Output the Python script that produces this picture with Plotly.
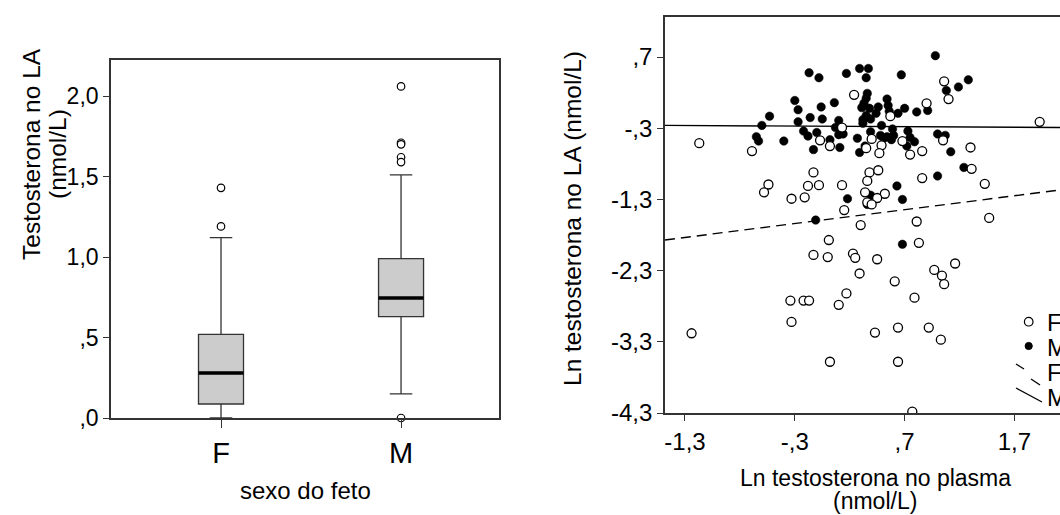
import plotly.graph_objects as go

W, H = 1060, 515

# ---------------- Left: boxplot data ----------------
box_cats = ["F", "M"]
box_q1 = [0.087, 0.63]
box_median = [0.28, 0.745]
box_q3 = [0.52, 0.99]
box_lower = [0.0, 0.15]
box_upper = [1.12, 1.51]
outliers_F = [1.43, 1.19]
outliers_M = [2.06, 1.71, 1.70, 1.62, 1.59, 0.0]
left_yticks = [0.0, 0.5, 1.0, 1.5, 2.0]
left_yticklabels = [",0", ",5", "1,0", "1,5", "2,0"]

# ---------------- Right: scatter data ----------------
male_points = [
    (-0.17, 0.48), (-0.08, 0.41), (0.17, 0.47), (0.29, 0.54), (0.37, 0.54), (0.35, 0.41),
    (0.67, 0.45), (0.98, 0.72), (1.28, 0.38), (1.19, 0.28), (1.08, 0.23), (-0.30, 0.09),
    (-0.27, -0.04), (-0.06, 0.00), (0.06, 0.06), (-0.53, -0.13), (-0.16, -0.15), (-0.05, -0.17),
    (-0.27, -0.21), (0.10, -0.19), (-0.60, -0.26), (0.07, -0.29), (-0.22, -0.34), (-0.18, -0.41),
    (-0.10, -0.36), (0.10, -0.39), (0.14, -0.38), (-0.65, -0.42), (-0.63, -0.48), (-0.40, -0.48),
    (0.02, -0.46), (0.11, -0.57), (-0.13, -0.60), (0.27, -0.44), (0.29, -0.64), (0.36, 0.19),
    (0.35, 0.12), (0.33, 0.05), (0.54, 0.11), (0.55, 0.02), (0.46, 0.00), (0.31, -0.01),
    (0.38, -0.02), (0.91, -0.05), (0.81, -0.07), (0.70, -0.02), (0.64, -0.09), (0.56, -0.06),
    (0.44, -0.09), (0.35, -0.12), (0.32, -0.18), (0.39, -0.17), (0.32, -0.23), (0.49, -0.26),
    (0.59, -0.31), (0.39, -0.35), (0.48, -0.40), (0.54, -0.42), (0.60, -0.40), (0.51, -0.44),
    (0.58, -0.46), (0.73, -0.34), (0.75, -0.43), (0.79, -0.49), (1.00, -0.38), (1.07, -0.40),
    (0.34, -0.55), (0.72, -0.55), (1.12, -0.63), (1.24, -0.85), (1.00, -0.97), (0.63, -1.11),
    (0.68, -1.30), (0.18, -1.29), (-0.11, -1.59), (0.39, -1.24), (0.36, -1.37), (0.68, -1.93),
]
female_points = [
    (-1.17, -0.51), (-0.69, -0.62), (-0.07, -0.47), (0.02, -0.55), (0.24, 0.17), (0.13, -0.29),
    (1.06, 0.36), (1.10, 0.11), (0.90, 0.05), (0.57, -0.13), (0.68, -0.48), (1.05, -0.47),
    (0.40, -0.45), (0.35, -0.58), (0.49, -0.54), (0.47, -0.65), (0.75, -0.67), (0.86, -0.62),
    (1.30, -0.57), (1.93, -0.21), (1.31, -0.87), (0.86, -1.00), (1.43, -1.08), (1.47, -1.56),
    (0.81, -1.61), (0.30, -1.66), (0.01, -1.87), (-0.13, -0.92), (-0.54, -1.09), (-0.58, -1.20),
    (-0.18, -1.11), (-0.08, -1.10), (0.13, -1.10), (-0.33, -1.29), (-0.21, -1.27), (0.15, -1.45),
    (0.38, -0.92), (0.46, -0.89), (0.36, -1.04), (0.34, -1.20), (0.52, -1.22), (0.45, -1.28),
    (0.36, -1.34), (0.40, -1.37), (0.83, -1.91), (-0.13, -2.08), (0.00, -2.11), (0.23, -2.06),
    (0.25, -2.12), (0.45, -2.14), (1.16, -2.20), (0.29, -2.34), (0.97, -2.29), (1.04, -2.37),
    (1.06, -2.49), (0.61, -2.45), (0.17, -2.62), (0.10, -2.78), (0.79, -2.68), (-0.34, -2.72),
    (-0.22, -2.72), (-0.17, -2.72), (-0.33, -3.02), (0.43, -3.17), (0.64, -3.10), (0.92, -3.10),
    (1.03, -3.27), (0.02, -3.58), (0.64, -3.58), (-1.24, -3.18), (0.77, -4.28),
]
# fit lines (intercept, slope)
fit_F = (-1.58, 0.195)
fit_M = (-0.272, -0.008)
right_ticks = [-4.3, -3.3, -2.3, -1.3, -0.3, 0.7]
right_ticklabels = ["-4,3", "-3,3", "-2,3", "-1,3", "-,3", ",7"]
right_xticks = [-1.3, -0.3, 0.7, 1.7]
right_xticklabels = ["-1,3", "-,3", ",7", "1,7"]
legend_labels = ["F", "M", "F", "M"]

FONT = "Liberation Sans, Arial, sans-serif"


def fx(p):
    return p / W


def fy(p):
    return 1 - p / H


fig = go.Figure()

# ---- boxes ----
BOXW = 0.25
for i, c in enumerate(box_cats):
    fig.add_trace(go.Box(
        x=[i], q1=[box_q1[i]], median=[box_median[i]], q3=[box_q3[i]],
        lowerfence=[box_lower[i]], upperfence=[box_upper[i]],
        width=BOXW, whiskerwidth=0.5, fillcolor="#cccccc",
        line=dict(color="#333333", width=1.3), boxpoints=False,
        xaxis="x", yaxis="y", showlegend=False, hoverinfo="skip",
    ))
    fig.add_shape(type="line", xref="x", yref="y",
                  x0=i - BOXW / 2, x1=i + BOXW / 2, y0=box_median[i], y1=box_median[i],
                  line=dict(color="black", width=3.5))

for i, outs in enumerate([outliers_F, outliers_M]):
    fig.add_trace(go.Scatter(
        x=[i] * len(outs), y=outs, mode="markers",
        marker=dict(symbol="circle", size=7.5, color="white",
                    line=dict(color="black", width=1.2)),
        xaxis="x", yaxis="y", showlegend=False, cliponaxis=False, hoverinfo="skip",
    ))

# ---- scatter ----
x_lo, x_hi = -1.482, 2.115
for (b0, b1), dash in [(fit_F, "10px,6px"), (fit_M, "solid")]:
    xs = [x_lo, x_hi + 1]
    fig.add_trace(go.Scatter(
        x=xs, y=[b0 + b1 * v for v in xs], mode="lines",
        line=dict(color="black", width=1.4, dash=dash),
        xaxis="x2", yaxis="y2", showlegend=False, hoverinfo="skip",
    ))

mx, my = zip(*male_points)
fig.add_trace(go.Scatter(
    x=list(mx), y=list(my), mode="markers",
    marker=dict(symbol="circle", size=8.5, color="black", line=dict(color="black", width=0.5)),
    xaxis="x2", yaxis="y2", showlegend=False, hoverinfo="skip",
))
fx_, fy_ = zip(*female_points)
fig.add_trace(go.Scatter(
    x=list(fx_), y=list(fy_), mode="markers",
    marker=dict(symbol="circle", size=9, color="white", line=dict(color="black", width=1.3)),
    xaxis="x2", yaxis="y2", showlegend=False, hoverinfo="skip",
))

axis_common = dict(showgrid=False, zeroline=False, ticks="outside",
                   tickcolor="#333333", linecolor="#333333", linewidth=1.6,
                   showline=True, automargin=False)

fig.update_layout(
    width=W, height=H, margin=dict(l=0, r=0, t=0, b=0, autoexpand=False),
    paper_bgcolor="white", plot_bgcolor="white", showlegend=False,
    font=dict(family=FONT, color="black"),
    xaxis=dict(domain=[fx(111), fx(499)], range=[-0.611, 1.544], tickvals=[0, 1],
               ticktext=box_cats, tickfont=dict(size=29), mirror=True, ticklen=8,
               **axis_common, anchor="y"),
    yaxis=dict(domain=[fy(418), fy(60)], range=[0, 2.224], tickvals=left_yticks,
               ticktext=left_yticklabels, tickfont=dict(size=23), mirror=True, ticklen=6,
               **axis_common, anchor="x"),
    xaxis2=dict(domain=[fx(665), 1.0], range=[x_lo, x_hi], tickvals=right_xticks,
                ticktext=right_xticklabels, tickfont=dict(size=24), mirror=True, ticklen=6,
                **axis_common, anchor="y2"),
    yaxis2=dict(domain=[fy(413), fy(17)], range=[-4.3, 1.263], tickvals=right_ticks,
                ticktext=right_ticklabels, tickfont=dict(size=24), mirror=False, ticklen=6,
                **axis_common, anchor="x2"),
)


def add_text(txt, x, y, size, angle=0, xanchor="center"):
    fig.add_annotation(text=txt, x=fx(x), y=fy(y), xref="paper", yref="paper",
                       xanchor=xanchor, yanchor="middle", textangle=angle,
                       showarrow=False, font=dict(size=size))


add_text("Testosterona no LA", 31, 154, 24.5, -90)
add_text("(nmol/L)", 57, 154, 24.5, -90)
add_text("sexo do feto", 305, 490, 24)
add_text("Ln testosterona no LA (nmol/L)", 573, 219, 24.5, -90)
add_text("Ln testosterona no plasma", 875, 478, 23)
add_text("(nmol/L)", 875, 501, 23)
# legend (clipped at right edge as in the original)
for txt, ycen in zip(legend_labels, [322, 347, 372, 397]):
    add_text(txt, 1045, ycen, 24, xanchor="left")

r = 4.3
fig.add_shape(type="circle", xref="paper", yref="paper",
              x0=fx(1028.7 - r), x1=fx(1028.7 + r), y0=fy(321.7 + r), y1=fy(321.7 - r),
              line=dict(color="black", width=1.2), fillcolor="white")
r2 = 3.6
fig.add_shape(type="circle", xref="paper", yref="paper",
              x0=fx(1028.7 - r2), x1=fx(1028.7 + r2), y0=fy(346 + r2), y1=fy(346 - r2),
              line=dict(color="black", width=1), fillcolor="black")
fig.add_shape(type="line", xref="paper", yref="paper",
              x0=fx(1016), x1=fx(1024), y0=fy(364), y1=fy(369), line=dict(color="black", width=1.3))
fig.add_shape(type="line", xref="paper", yref="paper",
              x0=fx(1031), x1=fx(1040), y0=fy(379), y1=fy(385), line=dict(color="black", width=1.3))
fig.add_shape(type="line", xref="paper", yref="paper",
              x0=fx(1016), x1=fx(1042), y0=fy(388), y1=fy(402), line=dict(color="black", width=1.3))

fig.write_html("out.html")
